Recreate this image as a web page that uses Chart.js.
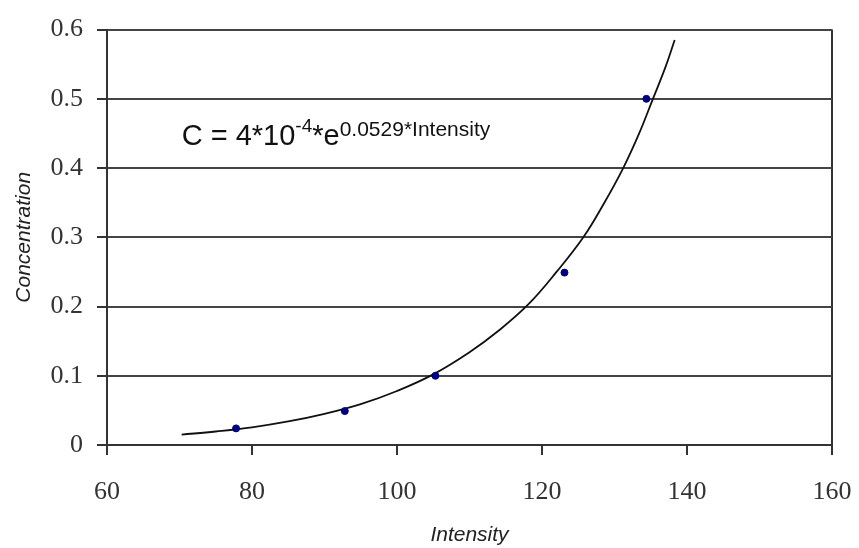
<!DOCTYPE html>
<html>
<head>
<meta charset="utf-8">
<script src="https://cdn.jsdelivr.net/npm/chart.js@4"></script>
<style>
  html, body { margin: 0; padding: 0; background: #fff; }
  #wrap { width: 859px; height: 548px; }
</style>
</head>
<body>
<div id="wrap"><canvas id="concChart" width="859" height="548"></canvas></div>
<script>
// measured samples
const sampleIntensity = [77.8, 92.8, 105.3, 123.1, 134.4];
const sampleConcentration = [0.024, 0.049, 0.1, 0.249, 0.5];

// fitted curve
const trendIntensity = [70.3, 75, 80, 85, 90, 95, 100, 105, 110, 114, 118.1, 122, 125.7, 128.6, 131.2, 133.4, 135.3, 137, 138.3];
const trendConcentration = [0.015, 0.0195, 0.0255, 0.034, 0.045, 0.059, 0.078, 0.102, 0.134, 0.165, 0.203, 0.25, 0.3, 0.35, 0.4, 0.45, 0.5, 0.545, 0.585];

const xTicks = [60, 80, 100, 120, 140, 160];
const yTicks = [0, 0.1, 0.2, 0.3, 0.4, 0.5, 0.6];

// equation label anchor (data units) and pieces
const eqAnchor = { x: 70.3, y: 0.433 };
const eqParts = [
    { text: 'C = 4*10', sup: false },
    { text: '-4', sup: 'small' },
    { text: '*e', sup: false },
    { text: '0.0529*Intensity', sup: 'big' },
];

const equationPlugin = {
    id: 'equation',
    afterDraw(chart) {
        const ctx = chart.ctx;
        let px = chart.scales.x.getPixelForValue(eqAnchor.x);
        const py = chart.scales.y.getPixelForValue(eqAnchor.y);
        ctx.save();
        ctx.fillStyle = '#111';
        ctx.textBaseline = 'alphabetic';
        ctx.textAlign = 'left';
        eqParts.forEach(p => {
            let dy = 0;
            if (p.sup === 'small') {
                ctx.font = '19px "Liberation Sans", Arial, sans-serif';
                dy = -13;
            } else if (p.sup === 'big') {
                ctx.font = '21px "Liberation Sans", Arial, sans-serif';
                dy = -9;
            } else {
                ctx.font = '29px "Liberation Sans", Arial, sans-serif';
            }
            ctx.fillText(p.text, px, py + dy);
            px += ctx.measureText(p.text).width;
        });
        ctx.restore();
    }
};

const ctx = document.getElementById('concChart').getContext('2d');

new Chart(ctx, {
    type: 'scatter',
    data: {
        datasets: [
            {
                label: 'Fit',
                type: 'line',
                data: trendIntensity.map((x, i) => ({ x: x, y: trendConcentration[i] })),
                borderColor: '#111',
                borderWidth: 1.8,
                pointRadius: 0,
                fill: false,
                tension: 0.4,
                order: 2,
            },
            {
                label: 'Samples',
                data: sampleIntensity.map((x, i) => ({ x: x, y: sampleConcentration[i] })),
                backgroundColor: '#000080',
                borderColor: '#000080',
                pointRadius: 3.5,
                pointHoverRadius: 3.5,
                order: 1,
            },
        ]
    },
    options: {
        responsive: false,
        animation: false,
        layout: { padding: { top: 27, right: 0, left: 0, bottom: 0 } },
        plugins: {
            legend: { display: false },
            tooltip: { enabled: false },
        },
        scales: {
            x: {
                type: 'linear',
                min: 60,
                max: 160,
                afterBuildTicks: axis => { axis.ticks = xTicks.map(v => ({ value: v })); },
                afterFit: axis => {
                    axis.height = 103;
                    axis.paddingLeft = 0;
                    axis.paddingRight = 27;
                },
                grid: {
                    drawOnChartArea: true,
                    color: c => (c.tick && c.tick.value === 160) ? '#333' : 'rgba(0,0,0,0)',
                    lineWidth: 2,
                    tickColor: '#333',
                    tickLength: 10,
                },
                border: { color: '#333', width: 2 },
                ticks: {
                    color: '#333',
                    padding: 22,
                    font: { family: '"Liberation Serif", "Times New Roman", serif', size: 26 },
                },
                title: {
                    display: true,
                    text: 'Intensity',
                    color: '#222',
                    padding: { top: 4, bottom: 0 },
                    font: { family: '"Liberation Sans", Arial, sans-serif', size: 21, style: 'italic' },
                },
            },
            y: {
                type: 'linear',
                min: 0,
                max: 0.6,
                afterBuildTicks: axis => { axis.ticks = yTicks.map(v => ({ value: v })); },
                afterFit: axis => { axis.width = 107; },
                grid: {
                    color: '#444',
                    lineWidth: 2,
                    tickColor: '#333',
                    tickLength: 10,
                },
                border: { color: '#333', width: 2 },
                ticks: {
                    color: '#333',
                    padding: 14,
                    font: { family: '"Liberation Serif", "Times New Roman", serif', size: 26 },
                    callback: v => String(Math.round(v * 10) / 10),
                },
                title: {
                    display: true,
                    text: 'Concentration',
                    color: '#222',
                    padding: { top: 12, bottom: 0 },
                    font: { family: '"Liberation Sans", Arial, sans-serif', size: 21, style: 'italic' },
                },
            },
        },
    },
    plugins: [equationPlugin],
});
</script>
</body>
</html>
